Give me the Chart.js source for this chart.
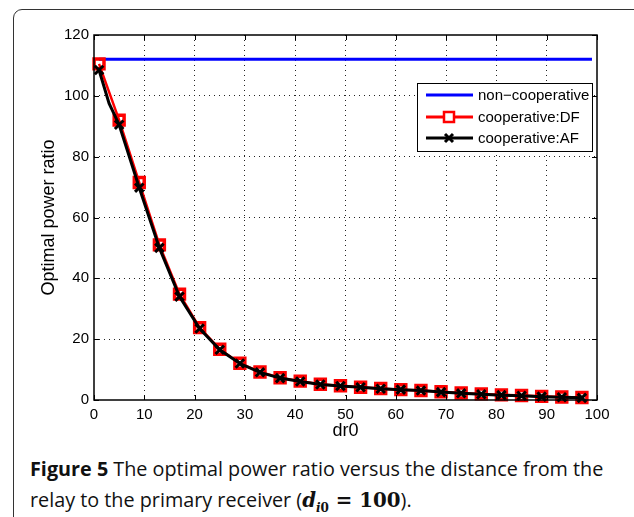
<!DOCTYPE html>
<html>
<head>
<meta charset="utf-8">
<script src="https://cdn.jsdelivr.net/npm/chart.js@4.4.1/dist/chart.umd.min.js"></script>
<style>
  body { margin: 0; background: #fff; }
  #wrap { position: relative; width: 634px; height: 517px; overflow: hidden; background: #fff; }
  #frame {
    position: absolute; left: 13px; top: 9px; width: 700px; height: 600px;
    border: 1px solid #333; border-radius: 9px;
  }
  #chartBox { position: absolute; left: 0; top: 0; width: 634px; height: 445px; }
  #caption {
    position: absolute; left: 30px; top: 453px; width: 610px; white-space: nowrap;
    font-family: "Open Sans", sans-serif; font-size: 19.8px; line-height: 31px; color: #111;
  }
  #caption b { font-weight: 700; }
  .math { font-family: "DejaVu Serif", serif; font-weight: bold; }
</style>
</head>
<body>
<div id="wrap">
  <div id="frame"></div>
  <div id="chartBox"><canvas id="chart" width="634" height="445"></canvas></div>
  <div id="caption">
    <b>Figure 5</b> The optimal power ratio versus the distance from the<br>
    relay to the primary receiver (<span class="math"><i>d</i><sub style="font-size:12px"><i>i</i>0</sub> = 100</span>).
  </div>
</div>

<script>
// distance dr0 where markers sit
const dr0 = [1, 5, 9, 13, 17, 21, 25, 29, 33, 37, 41, 45, 49, 53, 57, 61, 65, 69, 73, 77, 81, 85, 89, 93, 97];

const dfValues = [110.5, 92, 71.5, 51, 34.8, 23.8, 16.7, 12.1, 9.2, 7.3, 6.2, 5.2, 4.7, 4.2, 3.8, 3.4, 3.1, 2.7, 2.3, 2.0, 1.7, 1.5, 1.2, 1.0, 0.8];

// AF has an extra point at dr0 = 3 (no marker)
const afX = [1, 3, 5, 9, 13, 17, 21, 25, 29, 33, 37, 41, 45, 49, 53, 57, 61, 65, 69, 73, 77, 81, 85, 89, 93, 97];
const afValues = [108.5, 97.5, 90.5, 69.8, 50, 34, 23.5, 16.5, 12, 9.1, 7.2, 6.1, 5.1, 4.6, 4.2, 3.7, 3.4, 3.1, 2.6, 2.2, 1.9, 1.6, 1.4, 1.1, 0.9, 0.7];

const nonCoopX = [1, 99];
const nonCoopValues = [112, 112];

const xTicks = [0, 10, 20, 30, 40, 50, 60, 70, 80, 90, 100];
const yTicks = [0, 20, 40, 60, 80, 100, 120];

const labels = ["non\u2212cooperative", "cooperative:DF", "cooperative:AF"];

function pts(xs, ys) {
    return xs.map((x, i) => ({ x: x, y: ys[i] }));
}

// box, inward ticks and matlab-like legend
const matlabFrame = {
    id: "matlabFrame",
    afterDraw(chart) {
        const ctx = chart.ctx;
        const a = chart.chartArea;
        const xs = chart.scales.x;
        const ys = chart.scales.y;

        ctx.save();
        ctx.strokeStyle = "#000";
        ctx.lineWidth = 1;

        xTicks.forEach(t => {
            const px = Math.round(xs.getPixelForValue(t)) + 0.5;
            ctx.beginPath();
            ctx.moveTo(px, a.bottom);
            ctx.lineTo(px, a.bottom - 5);
            ctx.moveTo(px, a.top);
            ctx.lineTo(px, a.top + 5);
            ctx.stroke();
        });

        yTicks.forEach(t => {
            const py = Math.round(ys.getPixelForValue(t)) + 0.5;
            ctx.beginPath();
            ctx.moveTo(a.left, py);
            ctx.lineTo(a.left + 5, py);
            ctx.moveTo(a.right, py);
            ctx.lineTo(a.right - 5, py);
            ctx.stroke();
        });

        ctx.lineWidth = 1.5;
        ctx.strokeRect(a.left, a.top, a.right - a.left, a.bottom - a.top);

        // legend
        const lx = 417, ly = 83, lw = 175, lh = 68;
        ctx.fillStyle = "#fff";
        ctx.fillRect(lx, ly, lw, lh);
        ctx.lineWidth = 1;
        ctx.strokeStyle = "#000";
        ctx.strokeRect(lx + 0.5, ly + 0.5, lw, lh);

        const rows = [95, 117, 138];
        const colors = ["#0000ff", "#ff0000", "#000000"];
        ctx.font = "15px 'Liberation Sans', Arial, sans-serif";
        ctx.textBaseline = "middle";
        rows.forEach((ry, i) => {
            ctx.strokeStyle = colors[i];
            ctx.lineWidth = 3;
            ctx.beginPath();
            ctx.moveTo(426, ry);
            ctx.lineTo(473, ry);
            ctx.stroke();
            if (i === 1) {
                ctx.fillStyle = "#fff";
                ctx.lineWidth = 2.5;
                ctx.fillRect(444, ry - 5, 10, 10);
                ctx.strokeRect(444, ry - 5, 10, 10);
            }
            if (i === 2) {
                ctx.lineWidth = 3;
                ctx.beginPath();
                ctx.moveTo(445, ry - 4);
                ctx.lineTo(453, ry + 4);
                ctx.moveTo(453, ry - 4);
                ctx.lineTo(445, ry + 4);
                ctx.stroke();
            }
            ctx.fillStyle = "#000";
            ctx.fillText(labels[i], 478, ry + 1);
        });
        ctx.restore();
    }
};

const tickFont = { family: "'Liberation Sans', Arial, sans-serif", size: 15 };
const titleFont = { family: "'Liberation Sans', Arial, sans-serif", size: 18 };

new Chart(document.getElementById("chart"), {
    type: "scatter",
    data: {
        datasets: [
            {
                label: labels[0],
                data: pts(nonCoopX, nonCoopValues),
                showLine: true,
                borderColor: "#0000ff",
                borderWidth: 3,
                pointRadius: 0,
                order: 2
            },
            {
                label: labels[1],
                data: pts(dr0, dfValues),
                showLine: true,
                borderColor: "#ff0000",
                borderWidth: 2.5,
                pointStyle: "rect",
                pointRadius: 7,
                pointBorderWidth: 3.5,
                pointBorderColor: "#ff0000",
                pointBackgroundColor: "rgba(0,0,0,0)",
                order: 1
            },
            {
                label: labels[2],
                data: pts(afX, afValues),
                showLine: true,
                borderColor: "#000000",
                borderWidth: 3,
                pointStyle: "crossRot",
                pointRadius: afX.map(x => x === 3 ? 0 : 6),
                pointBorderWidth: 3,
                pointBorderColor: "#000000",
                order: 0
            }
        ]
    },
    options: {
        responsive: false,
        animation: false,
        clip: false,
        layout: { padding: { left: 0, right: 37, top: 35, bottom: 0 } },
        plugins: {
            legend: { display: false },
            tooltip: { enabled: false }
        },
        scales: {
            x: {
                type: "linear",
                min: 0,
                max: 100,
                afterFit: s => { s.height = 45; },
                afterBuildTicks: s => { s.ticks = xTicks.map(v => ({ value: v })); },
                ticks: { font: tickFont, color: "#000", padding: 6, maxRotation: 0 },
                grid: {
                    color: c => (c.tick.value === 0 || c.tick.value === 100) ? "rgba(0,0,0,0)" : "#222",
                    lineWidth: 1,
                    drawTicks: false
                },
                border: { display: false, dash: [1, 4] },
                title: { display: true, text: "dr0", font: titleFont, color: "#000", padding: { top: 0, bottom: 3 } }
            },
            y: {
                type: "linear",
                min: 0,
                max: 120,
                afterFit: s => { s.width = 94; },
                afterBuildTicks: s => { s.ticks = yTicks.map(v => ({ value: v })); },
                ticks: { font: tickFont, color: "#000", padding: 5 },
                grid: {
                    color: c => (c.tick.value === 0 || c.tick.value === 120) ? "rgba(0,0,0,0)" : "#222",
                    lineWidth: 1,
                    drawTicks: false
                },
                border: { display: false, dash: [1, 4] },
                title: { display: true, text: "Optimal power ratio", font: titleFont, color: "#000", padding: { top: 38, bottom: 0 } }
            }
        }
    },
    plugins: [matlabFrame]
});
</script>
</body>
</html>
